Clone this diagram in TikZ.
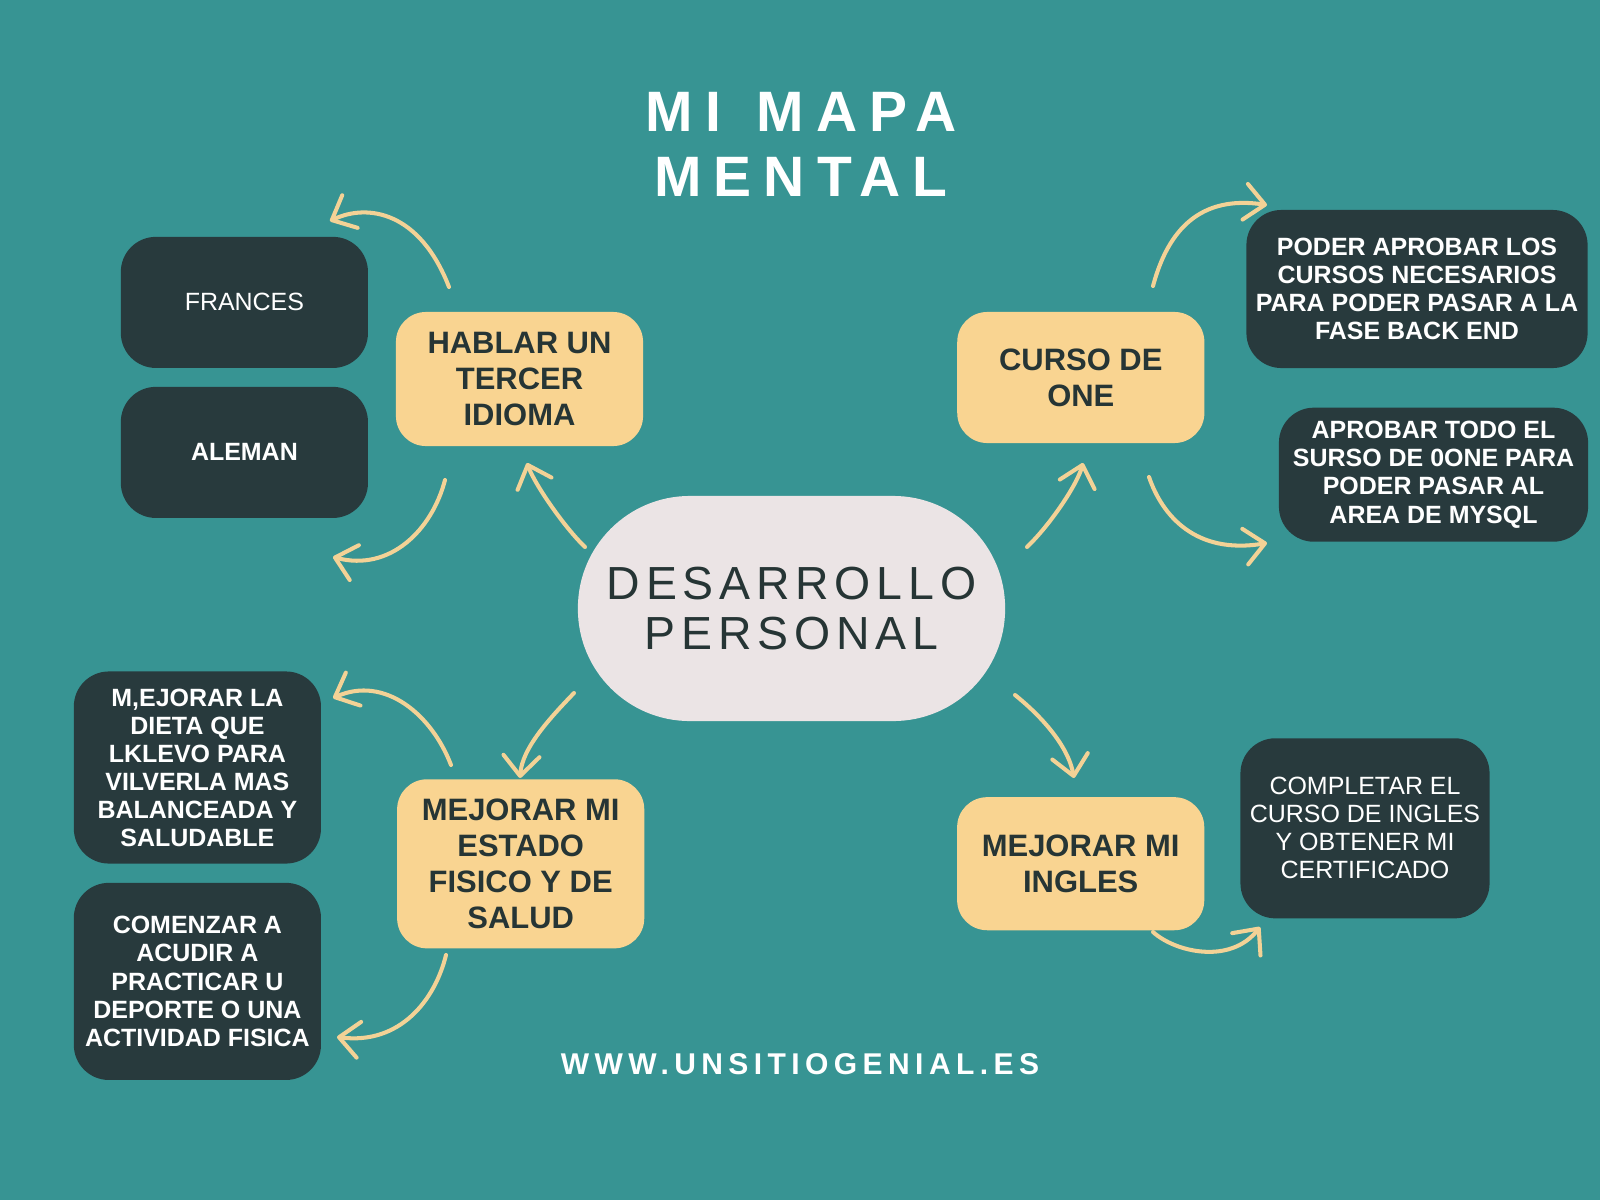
\documentclass[tikz,border=0pt]{standalone}
\usepackage{fontspec}
\setmainfont{Liberation Sans}
\usetikzlibrary{arrows.meta}
\definecolor{fondo}{HTML}{379493}
\definecolor{crema}{HTML}{F9D491}
\definecolor{oscuro}{HTML}{283A3D}
\definecolor{perla}{HTML}{EBE4E5}
\definecolor{tinta}{HTML}{263535}
\definecolor{trazo}{HTML}{F3D296}

\begin{document}
\begin{tikzpicture}[x=0.01cm, y=-0.01cm,
    rama/.style={fill=crema, text=tinta, rounded corners=0.3cm, align=center, inner sep=0pt,
        minimum width=2.47cm, font=\fontsize{8.8pt}{10.25pt}\selectfont\bfseries},
    hoja/.style={fill=oscuro, text=white, rounded corners=0.35cm, align=center, inner sep=0pt,
        minimum width=2.47cm, font=\fontsize{7.1pt}{7.97pt}\selectfont\bfseries},
    fina/.style={font=\fontsize{7.1pt}{7.97pt}\selectfont},
    flecha/.style={draw=trazo, line width=1.15pt, line cap=round,
        -{Straight Barb[length=2mm,width=3.6mm,round]}}]
    \fill[fondo] (0,0) rectangle (1600,1200);
    \node[text=white, align=center, inner sep=0pt,
        font=\fontsize{16.2pt}{18.5pt}\selectfont\bfseries\addfontfeature{LetterSpace=21}]
        (titulo) at (801,144) {MI\hspace{2.3pt} MAPA\\MENTAL};
    \node[fill=perla, text=tinta, rounded corners=1.12cm, align=center, inner sep=0pt,
        minimum width=4.27cm, minimum height=2.25cm,
        font=\fontsize{13.2pt}{14.2pt}\selectfont\addfontfeature{LetterSpace=12.5}]
        (centro) at (791.5,608.5) {DESARROLLO\\PERSONAL};
    \node[rama, minimum height=1.34cm] (hablar) at (519.5,379) {HABLAR UN\\TERCER\\IDIOMA};
    \node[rama, minimum height=1.31cm] (curso) at (1080.8,377.5) {CURSO DE\\ONE};
    \node[rama, minimum height=1.33cm] (ingles) at (1080.7,863.7) {MEJORAR MI\\INGLES};
    \node[rama, minimum height=1.69cm] (estado) at (520.7,863.8) {MEJORAR MI\\ESTADO\\FISICO Y DE\\SALUD};
    \node[hoja, fina, minimum height=1.31cm] (frances) at (244.4,302.4) {FRANCES};
    \node[hoja, minimum height=1.31cm] (aleman) at (244.4,452.4) {ALEMAN};
    \node[hoja, minimum width=3.41cm, minimum height=1.58cm] (poder) at (1417,289)
        {PODER APROBAR LOS\\CURSOS NECESARIOS\\PARA PODER PASAR A LA\\FASE BACK END};
    \node[hoja, minimum width=3.09cm, minimum height=1.34cm] (aprobar) at (1433.5,474.7)
        {APROBAR TODO EL\\SURSO DE 0ONE PARA\\PODER PASAR AL\\AREA DE MYSQL};
    \node[hoja, fina, minimum width=2.49cm, minimum height=1.8cm] (completar) at (1365,828.3)
        {COMPLETAR EL\\CURSO DE INGLES\\Y OBTENER MI\\CERTIFICADO};
    \node[hoja, minimum height=1.92cm] (dieta) at (197.4,767.5)
        {M,EJORAR LA\\DIETA QUE\\LKLEVO PARA\\VILVERLA MAS\\BALANCEADA Y\\SALUDABLE};
    \node[hoja, minimum height=1.97cm] (comenzar) at (197.4,981.4)
        {COMENZAR A\\ACUDIR A\\PRACTICAR U\\DEPORTE O UNA\\ACTIVIDAD FISICA};
    \node[text=white, inner sep=0pt,
        font=\fontsize{8.54pt}{10pt}\selectfont\bfseries\addfontfeature{LetterSpace=18}]
        (web) at (800,1064) {WWW.UNSITIOGENIAL.ES};
    \coordinate (h1) at (449,287);
    \coordinate (f1) at (330,221);
    \coordinate (h2) at (445,480);
    \coordinate (a1) at (333,557);
    \coordinate (c1) at (585,547);
    \coordinate (h3) at (527,463);
    \coordinate (c2) at (1027,547);
    \coordinate (o1) at (1083,463);
    \coordinate (o2) at (1153,286);
    \coordinate (p1) at (1267,205);
    \coordinate (o3) at (1149,477);
    \coordinate (p2) at (1267,543);
    \coordinate (c3) at (574,693);
    \coordinate (e1) at (520,778);
    \coordinate (e2) at (451,765);
    \coordinate (d1) at (333,698);
    \coordinate (e3) at (446,955);
    \coordinate (d2) at (337,1037);
    \coordinate (c4) at (1015,695);
    \coordinate (i1) at (1074,778);
    \coordinate (i2) at (1153,932);
    \coordinate (m1) at (1260,927);
    \draw[flecha] (h1) .. controls (420,212) and (368,203) .. (f1);
    \draw[flecha] (h2) .. controls (432,530) and (390,572) .. (a1);
    \draw[flecha] (c1) .. controls (565,528) and (535,485) .. (h3);
    \draw[flecha] (c2) .. controls (1050,525) and (1077,485) .. (o1);
    \draw[flecha] (o2) .. controls (1168,230) and (1200,195) .. (p1);
    \draw[flecha] (o3) .. controls (1162,515) and (1195,555) .. (p2);
    \draw[flecha] (c3) .. controls (550,718) and (522,748) .. (e1);
    \draw[flecha] (e2) .. controls (432,715) and (385,675) .. (d1);
    \draw[flecha] (e3) .. controls (435,1000) and (400,1045) .. (d2);
    \draw[flecha] (c4) .. controls (1040,715) and (1068,745) .. (i1);
    \draw[flecha] (i2) .. controls (1175,952) and (1230,965) .. (m1);
\end{tikzpicture}
\end{document}
